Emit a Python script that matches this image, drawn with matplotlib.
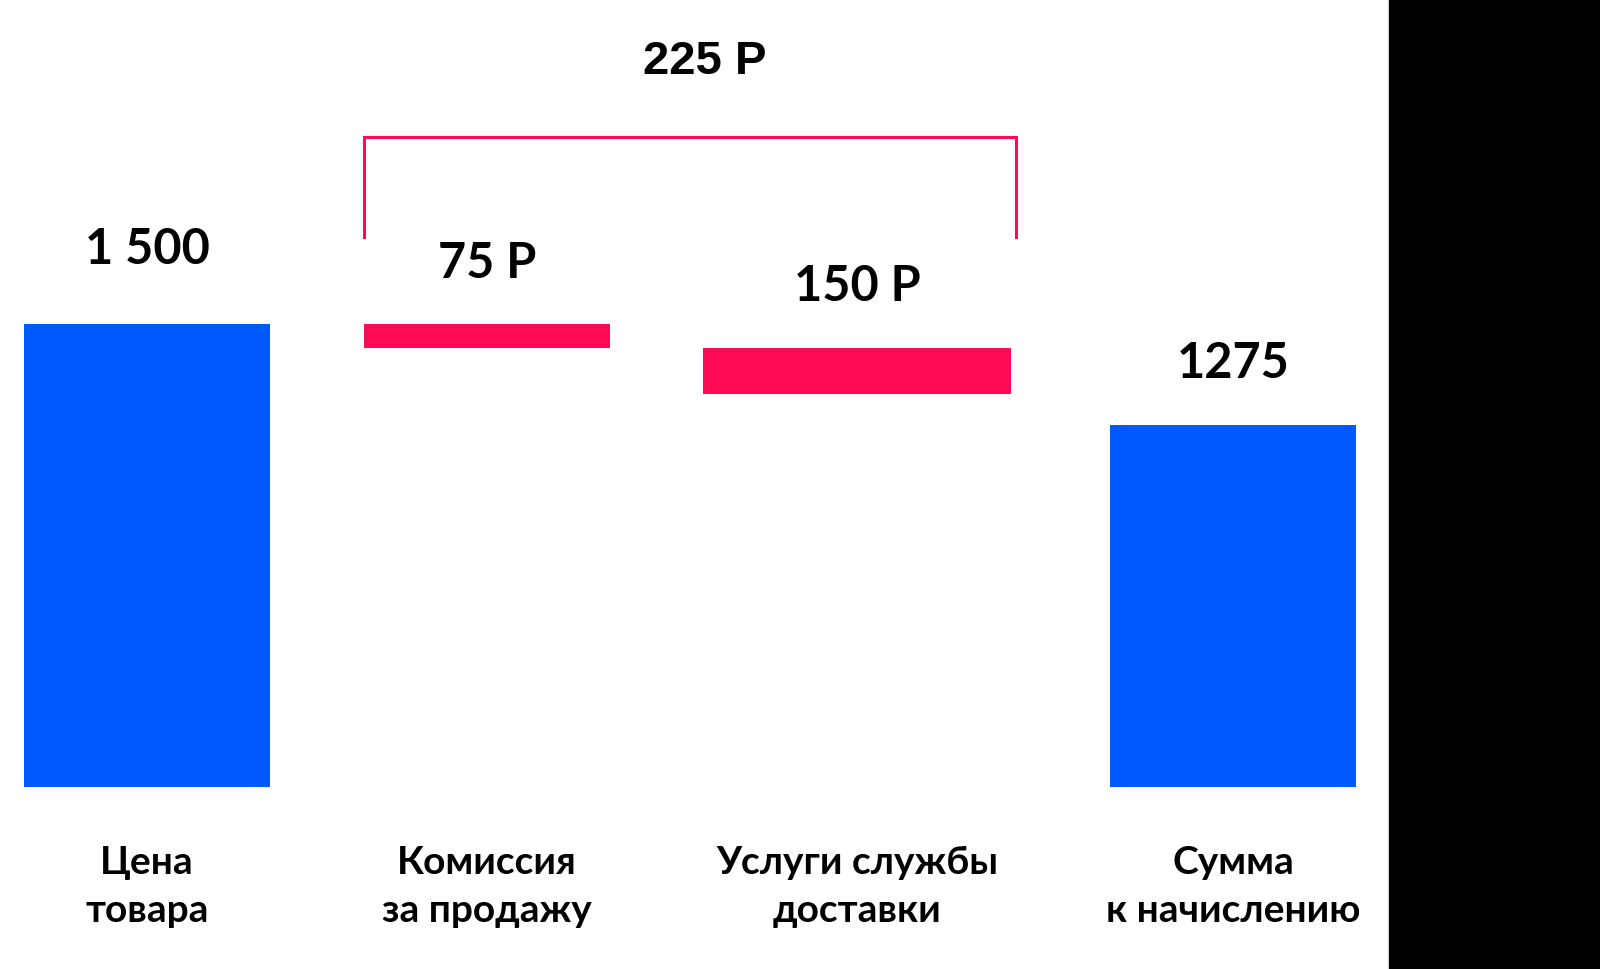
import matplotlib.pyplot as plt
import matplotlib.patches as patches

# data
categories = ["Цена\nтовара", "Комиссия\nза продажу", "Услуги службы\nдоставки", "Сумма\nк начислению"]
start_value = 1500
deductions = [75, 150]
final_drawn = 1175          # height the last bar is drawn at
value_labels = ["1 500", "75 Р", "150 Р", "1275"]
total_label = "225 Р"

# style
blue = '#005aff'
pink = '#ff0a54'
font = 'Lato'

fig = plt.figure(figsize=(16, 9.69), dpi=100)
ax = fig.add_axes([0, 0, 1, 1])
ax.set_xlim(0, 1600)
ax.set_ylim(-590, 2552)
ax.axis('off')

# black strip on the right
fig.add_artist(patches.Rectangle((1389 / 1600, 0), 1 - 1389 / 1600, 1,
                                 transform=fig.transFigure, color='black'))

centers = [147, 487, 857, 1233]
widths = [246, 246, 308, 246]

# waterfall geometry
heights = [start_value]
bottoms = [0]
level = start_value
for d in deductions:
    level -= d
    heights.append(d)
    bottoms.append(level)
heights.append(final_drawn)
bottoms.append(0)
colors = [blue, pink, pink, blue]

ax.bar(centers, heights, width=widths, bottom=bottoms, color=colors, linewidth=0)

# value labels above each bar
offsets = [54, 44, 44, 44]
for x, b, h, lab, off in zip(centers, bottoms, heights, value_labels, offsets):
    ax.annotate(lab, (x, b + h), xytext=(0, off), textcoords='offset points',
                ha='center', va='center', fontsize=35, family=font, fontweight='bold')

# category labels
for x, cat in zip(centers, categories):
    ax.text(x, -322, cat, ha='center', va='center', fontsize=28, family=font,
            fontweight='bold', linespacing=1.45)

# bracket over the deductions
x0 = centers[1] - widths[1] / 2
x1 = 1016
top = start_value + 608
leg = start_value + 284
ax.plot([x0, x0, x1, x1], [leg, top, top, leg], color=pink, lw=2.2, solid_joinstyle='miter')
ax.text(705, start_value + 852, total_label, ha='center', va='center', fontsize=34,
        family='Liberation Sans', fontweight='bold')

plt.savefig('out.png', dpi=100, facecolor='white')
